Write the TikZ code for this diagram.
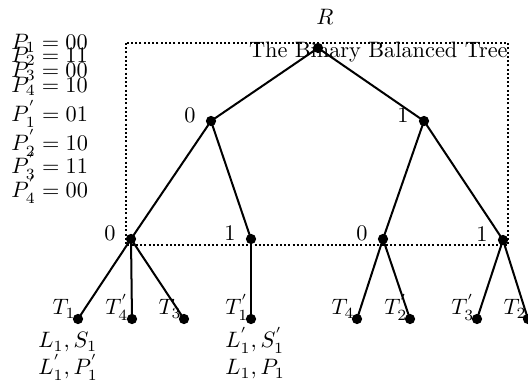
\documentclass[tikz,border=0pt]{standalone}
\usetikzlibrary{calc}
\begin{document}
\begin{tikzpicture}[x=0.4484pt,y=-0.4484pt,
  dot/.style={circle,fill=black,inner sep=0pt,minimum size=4.6pt},
  edge/.style={line width=0.9pt},
  boxline/.style={line width=0.9pt,densely dotted},
  lvl/.style={inner sep=0pt},
  tl/.style={inner sep=0pt,anchor=base east},
  txt/.style={inner sep=0pt,anchor=base west}]
\useasboundingbox (0,0) rectangle (528,383);
% dotted frame
\coordinate (f1) at (126,43);
\coordinate (f2) at (508,245);
\draw[boxline] (f1) rectangle (f2);
\node[inner sep=0pt,anchor=base east] (title) at (508,58) {The Binary Balanced Tree};
% tree nodes
\node[dot] (root) at (318,48) {};
\node[dot] (a) at (211,121) {};
\node[dot] (b) at (424,121) {};
\node[dot] (a0) at (131,239) {};
\node[dot] (a1) at (251,239) {};
\node[dot] (b0) at (383,239) {};
\node[dot] (b1) at (503,240) {};
\node[dot] (t1) at (78,319) {};
\node[dot] (t4p) at (132,319) {};
\node[dot] (t3) at (184,319) {};
\node[dot] (t1p) at (251,319) {};
\node[dot] (t4) at (357,319) {};
\node[dot] (t2p) at (410,319) {};
\node[dot] (t3p) at (477,319) {};
\node[dot] (t2) at (528,319) {};
% edges
\draw[edge] (root.center) -- (a.center);
\draw[edge] (root.center) -- (b.center);
\draw[edge] (a.center) -- (a0.center);
\draw[edge] (a.center) -- (a1.center);
\draw[edge] (b.center) -- (b0.center);
\draw[edge] (b.center) -- (b1.center);
\draw[edge] (a0.center) -- (t1.center);
\draw[edge] (a0.center) -- (t4p.center);
\draw[edge] (a0.center) -- (t3.center);
\draw[edge] (a1.center) -- (t1p.center);
\draw[edge] (b0.center) -- (t4.center);
\draw[edge] (b0.center) -- (t2p.center);
\draw[edge] (b1.center) -- (t3p.center);
\draw[edge] (b1.center) -- (t2.center);
% labels
\node[lvl] (lR) at (325,17) {$R$};
\node[lvl] (la) at ($(a)+(-21,-6)$) {0};
\node[lvl] (lb) at ($(b)+(-21,-6)$) {1};
\node[lvl] (la0) at ($(a0)+(-21,-6)$) {0};
\node[lvl] (la1) at ($(a1)+(-21,-6)$) {1};
\node[lvl] (lb0) at ($(b0)+(-21,-6)$) {0};
\node[lvl] (lb1) at ($(b1)+(-21,-6)$) {1};
% leaf labels
\node[tl] (lt1) at (76,315) {$T_1$};
\node[tl] (lt4p) at (129,315) {$T_4^{'}$};
\node[tl] (lt3) at (182,315) {$T_3$};
\node[tl] (lt1p) at (249,315) {$T_1^{'}$};
\node[tl] (lt4) at (355,315) {$T_4$};
\node[tl] (lt2p) at (408,315) {$T_2^{'}$};
\node[tl] (lt3p) at (475,315) {$T_3^{'}$};
\node[tl] (lt2) at (527,315) {$T_2$};
\node[txt] (s1) at (38,348) {$L_1, S_1$};
\node[txt] (s2) at (38,375) {$L_1^{'}, P_1^{'}$};
\node[txt] (s3) at (225,348) {$L_1^{'}, S_1^{'}$};
\node[txt] (s4) at (225,375) {$L_1, P_1$};
% left column
\node[txt] (p1) at (11,49.6) {$P_1 = 00$};
\node[txt] (p2) at (11,62.6) {$P_2 = 11$};
\node[txt] (p3) at (11,77.6) {$P_3 = 00$};
\node[txt] (p4) at (11,92.6) {$P_4 = 10$};
\node[txt] (q1) at (11,121.6) {$P_1^{'} = 01$};
\node[txt] (q2) at (11,150.6) {$P_2^{'} = 10$};
\node[txt] (q3) at (11,173.6) {$P_3^{'} = 11$};
\node[txt] (q4) at (11,197.6) {$P_4^{'} = 00$};
\end{tikzpicture}
\end{document}
